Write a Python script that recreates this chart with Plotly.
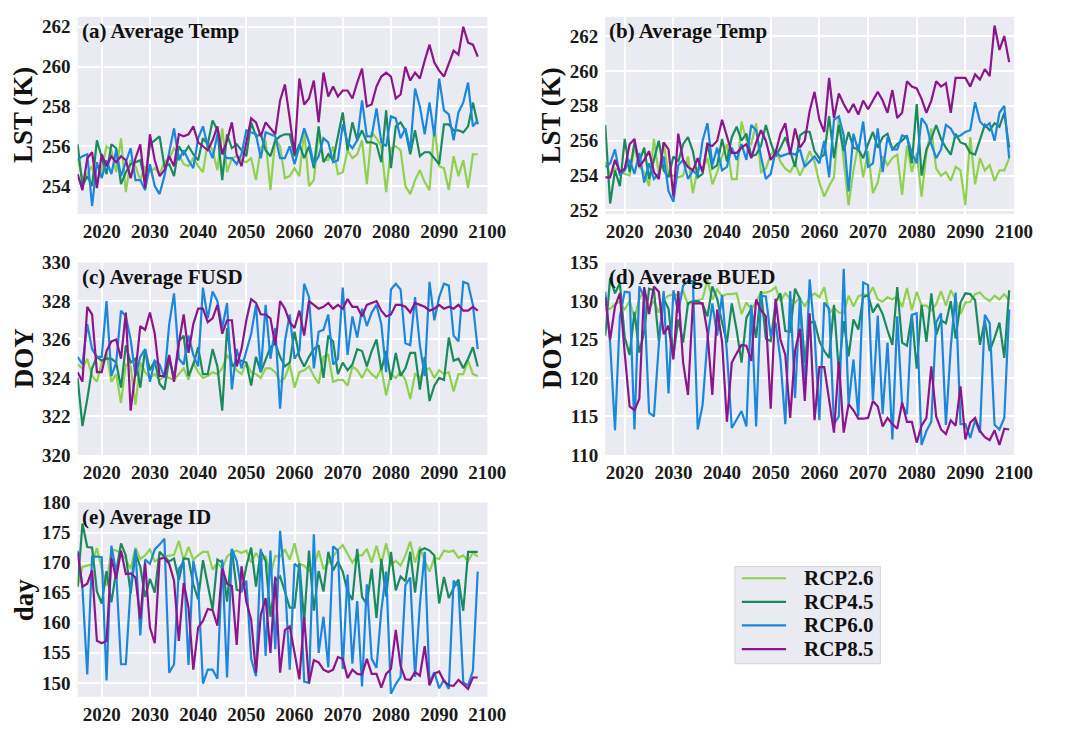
import plotly.graph_objects as go

W, H = 1091, 733
scenarios = ["RCP2.6", "RCP4.5", "RCP6.0", "RCP8.5"]
colors = ["#8fd14f", "#1a8a5c", "#1a87dd", "#8b168b"]

# ---------------- (a) Average Temp, years from 2015 ----------------
a_start = 2015
a_rcp26 = [255.4,254.4,254.6,255.0,254.3,254.8,256.0,255.8,254.7,256.4,253.7,255.3,255.0,254.3,255.0,254.7,254.9,254.6,255.2,255.4,
           255.9,255.6,255.1,255.0,255.4,255.0,254.7,256.2,255.8,254.8,256.9,254.7,255.4,255.5,255.3,255.2,255.4,254.3,255.9,256.3,
           253.8,256.4,256.0,254.4,254.5,254.9,254.5,256.8,254.0,254.3,256.6,255.3,255.3,256.0,254.6,254.7,255.8,255.4,255.6,256.3,
           254.1,256.7,256.4,256.0,253.7,255.9,256.0,255.8,254.0,253.6,254.3,254.8,254.2,253.8,257.0,255.0,254.9,253.8,255.5,254.5,
           255.3,253.9,255.6,255.6]
a_rcp45 = [256.1,254.0,254.5,254.0,256.3,255.4,254.6,256.1,255.9,254.1,254.7,255.1,255.2,255.3,254.2,256.1,256.3,256.5,255.0,255.1,
           254.5,256.0,255.6,256.0,255.6,255.3,256.4,256.1,257.3,256.8,254.3,256.6,255.9,256.1,255.8,255.5,257.2,256.5,256.6,255.8,
           255.5,256.3,256.5,256.6,256.6,255.5,256.1,255.4,256.0,254.9,257.0,255.2,255.6,255.3,256.5,257.7,255.8,257.2,256.3,256.8,
           256.2,256.2,256.1,255.2,257.8,254.9,257.0,257.2,256.8,255.6,256.8,255.5,255.7,255.7,255.4,255.1,257.1,257.1,256.8,256.8,
           256.7,257.0,258.2,257.1]
a_rcp60 = [255.3,255.5,255.6,253.0,255.2,254.4,255.3,254.6,255.8,254.5,255.2,255.9,254.3,254.3,253.8,255.1,254.0,253.6,254.5,255.8,
           256.9,255.3,255.8,255.3,254.9,256.4,257.0,256.0,255.4,256.6,255.7,255.4,255.4,255.1,255.6,256.8,256.7,256.6,255.4,256.7,
           256.6,256.5,255.4,255.4,256.0,255.1,256.0,256.9,256.2,255.1,255.5,256.4,256.2,255.2,255.3,257.1,256.2,255.9,256.3,258.3,
           256.5,256.5,257.9,256.2,256.0,257.5,257.4,256.4,256.9,255.8,258.9,258.0,256.6,258.2,256.5,259.4,257.8,257.6,256.3,257.7,
           258.2,259.2,257.0,257.3]
a_rcp85 = [254.6,253.8,255.4,255.7,253.9,255.6,255.0,255.5,255.2,255.5,255.3,254.4,255.4,256.1,253.9,256.6,255.3,254.5,254.8,255.5,
           255.0,256.6,256.5,256.6,257.0,256.2,256.0,255.8,256.3,257.0,255.6,256.3,257.2,255.6,255.0,256.3,257.4,257.2,256.5,257.2,
           256.9,256.6,258.3,259.1,257.4,255.6,259.4,258.1,258.4,259.3,257.2,259.7,258.5,259.0,258.5,258.8,258.8,258.4,259.2,259.9,
           258.0,258.1,259.0,259.5,259.7,259.5,258.4,258.6,260.0,259.3,259.7,259.4,260.3,261.1,260.2,259.8,259.5,260.1,260.8,260.6,
           262.0,261.2,261.1,260.5]

# ---------------- (b) Average Temp, years from 2016 ----------------
b_start = 2016
b_rcp26 = [254.8,254.0,254.4,254.3,254.1,254.0,255.6,254.5,254.2,253.4,256.1,254.1,255.9,254.0,254.0,253.9,254.0,255.1,253.0,254.4,
           254.4,255.0,253.5,254.2,255.1,255.8,253.8,253.8,257.1,256.0,255.8,257.0,254.2,254.4,255.2,255.5,254.8,254.4,254.2,254.7,
           254.0,254.6,255.4,254.8,253.6,252.8,253.4,253.9,257.4,254.8,252.3,254.3,255.8,253.9,255.4,253.0,253.6,255.1,254.6,255.0,
           255.2,252.9,255.7,254.2,255.3,252.8,255.3,256.7,254.4,254.0,254.2,253.7,254.5,254.3,252.3,256.2,253.5,255.0,254.3,254.6,
           253.7,254.3,254.3,255.0]
b_rcp45 = [256.9,252.4,254.3,253.4,256.1,254.2,255.9,254.8,255.6,253.8,254.9,256.0,254.3,253.9,255.1,254.8,255.8,256.2,255.4,253.9,
           254.1,255.9,254.4,254.6,256.1,254.8,256.2,256.8,256.0,256.4,255.1,255.2,255.7,256.9,255.9,255.1,255.6,256.2,255.4,254.5,
           256.3,256.5,256.5,255.4,255.0,255.2,257.4,255.0,256.9,255.4,256.5,255.6,255.5,255.0,255.8,256.5,255.6,256.2,256.4,255.5,
           255.8,256.0,256.3,254.7,258.1,254.0,255.5,256.1,256.9,256.1,255.6,255.2,256.4,255.9,255.8,255.3,255.2,256.0,256.9,256.6,
           257.0,256.8,257.6,255.6]
b_rcp60 = [254.5,254.7,255.5,254.0,254.3,254.9,254.1,255.3,253.6,254.7,253.8,254.1,255.1,253.1,252.5,254.6,254.9,253.8,254.3,254.0,
           256.0,257.0,254.6,255.6,254.3,254.5,255.6,254.9,255.8,254.9,256.9,256.6,255.1,253.8,254.1,255.4,255.1,255.2,255.3,255.2,
           255.5,254.5,254.8,255.1,254.7,256.0,253.9,257.2,257.4,256.3,253.1,256.4,255.4,257.1,254.5,254.7,256.7,254.2,256.2,255.5,
           255.5,256.3,256.2,255.3,254.7,257.3,256.9,255.8,255.0,255.5,256.9,256.7,256.2,256.3,256.5,256.6,258.2,257.1,256.8,257.0,
           256.0,257.6,258.0,255.0]
b_rcp85 = [253.9,253.9,254.9,254.2,254.4,255.8,256.1,254.5,254.9,255.4,254.2,253.8,255.9,255.5,252.8,256.4,254.9,254.5,254.3,255.0,
           254.2,255.8,255.7,256.0,257.2,256.2,255.3,255.3,255.6,255.8,255.0,255.9,256.6,256.0,254.9,255.3,256.4,257.0,255.2,256.7,
           255.6,256.0,257.7,258.8,257.2,256.5,259.6,257.3,258.7,258.1,257.6,258.1,257.5,258.3,257.8,258.3,258.8,258.3,257.6,258.9,
           257.3,257.6,259.4,259.1,259.0,258.4,257.6,258.3,259.4,259.1,259.3,257.6,259.6,259.6,259.6,259.1,259.8,259.5,260.1,259.7,
           262.6,261.2,262.0,260.5]

# ---------------- (c) Average FUSD, years from 2015 ----------------
c_start = 2015
c_rcp26 = [324.7,324.5,325.0,324.1,323.8,324.8,325.3,323.8,324.2,322.7,324.7,324.6,322.6,324.8,324.3,324.0,324.2,323.9,324.1,324.0,
           323.9,324.2,324.5,323.9,324.8,324.3,324.0,324.1,324.3,324.2,324.5,325.2,324.8,324.4,324.2,324.8,324.3,324.2,324.0,324.5,
           324.5,324.3,323.8,324.0,324.7,323.5,324.3,324.4,324.6,324.1,323.7,325.1,325.2,323.8,323.9,323.9,323.6,324.6,324.4,324.0,
           324.5,324.2,324.0,324.5,323.1,324.2,324.0,324.3,323.9,322.9,324.2,324.0,324.4,324.5,324.0,324.4,324.2,324.3,323.3,324.2,
           324.2,324.9,324.2,324.1]
c_rcp45 = [324.0,321.5,322.9,324.5,325.1,324.9,325.0,325.0,324.8,323.5,325.7,324.8,325.0,323.5,325.5,324.4,324.9,323.7,323.4,325.0,
           324.0,325.9,326.2,324.1,324.7,325.6,324.2,324.2,325.5,324.6,322.3,326.6,324.6,324.8,324.9,324.8,323.6,325.1,324.3,325.0,
           325.6,325.8,325.1,324.6,324.8,326.4,325.1,324.6,325.1,325.5,325.7,324.0,326.2,325.9,324.2,324.8,324.4,324.7,325.5,325.4,
           324.6,325.4,326.0,324.4,325.4,323.9,325.3,324.1,324.5,325.3,325.3,323.4,325.1,322.8,323.6,324.0,323.9,326.1,324.9,325.0,
           324.5,325.0,325.6,324.6]
c_rcp60 = [325.1,324.7,326.8,325.5,325.1,325.1,328.0,324.1,324.8,327.5,327.2,326.0,324.1,325.1,325.5,323.8,324.9,324.7,324.0,326.8,
           328.4,325.0,324.7,326.2,325.2,324.6,328.7,327.1,328.5,328.0,326.6,327.9,323.4,325.5,324.5,325.4,326.3,327.8,324.3,327.8,
           325.0,326.6,322.4,325.9,327.3,325.0,325.4,328.9,328.2,324.5,326.4,326.5,327.3,324.7,325.0,328.7,325.2,327.2,326.1,327.6,
           326.7,327.4,327.8,326.8,324.3,328.6,328.9,328.6,325.8,325.7,328.2,325.7,324.1,329.0,327.0,328.2,328.9,328.8,326.2,325.9,
           329.0,328.9,327.8,325.5]
c_rcp85 = [324.3,323.8,327.7,327.3,324.3,324.3,325.4,325.9,326.0,325.0,327.4,322.3,324.3,326.7,326.5,327.4,326.3,324.1,324.1,325.2,
           323.8,325.8,327.3,325.3,326.8,327.6,327.6,326.9,327.1,327.8,326.3,327.0,327.0,324.6,325.5,327.0,328.1,327.9,327.3,327.3,
           327.1,325.7,328.0,327.6,326.9,326.6,327.5,326.2,328.0,327.8,327.6,327.7,327.9,327.6,327.8,327.6,328.1,327.7,327.7,327.2,
           327.8,327.9,328.0,327.5,327.2,327.3,327.8,327.8,327.7,327.4,327.9,327.8,327.7,327.5,327.6,327.8,327.6,327.7,327.6,327.8,
           327.5,327.5,327.7,327.5]

# ---------------- (d) Average BUED, years from 2016 ----------------
d_start = 2016
d_rcp26 = [128.9,129.0,129.6,129.9,128.9,130.0,127.8,130.3,131.3,129.1,130.0,128.5,130.2,130.7,130.9,130.7,131.3,129.5,130.0,130.1,
           130.3,132.7,130.2,131.5,130.6,130.9,130.9,131.0,128.3,129.8,128.9,129.9,131.1,131.1,131.3,131.8,130.0,131.0,130.3,129.8,
           130.4,129.3,130.5,131.0,130.5,131.8,128.4,129.1,128.5,128.4,130.7,129.3,130.6,130.9,130.6,131.8,130.2,129.9,130.5,130.2,
           130.6,129.2,131.7,128.8,131.2,129.4,129.4,128.8,129.6,131.3,129.4,131.4,130.2,128.3,129.8,129.9,130.9,131.1,130.4,130.0,
           130.7,130.2,130.9,130.1]
d_rcp45 = [125.5,133.0,131.0,132.3,125.3,123.0,128.6,123.3,126.0,131.6,131.4,124.8,130.3,129.0,122.9,127.6,124.6,129.7,130.0,130.0,
           129.6,128.0,131.9,130.3,127.2,124.6,129.7,126.2,122.0,127.8,129.0,125.2,131.3,125.1,124.8,129.8,131.0,126.1,126.0,131.6,
           130.3,122.0,127.2,127.3,124.8,123.5,122.6,129.5,120.8,127.4,122.8,127.6,126.3,130.5,130.8,128.5,129.6,128.3,126.2,124.3,
           131.8,124.6,124.2,128.2,121.2,129.5,124.7,131.0,125.6,127.5,127.1,130.0,125.1,129.8,131.0,130.9,130.1,124.3,127.5,123.5,
           125.2,127.2,122.6,131.4]
d_rcp60 = [131.2,124.5,113.2,128.0,131.2,131.1,113.3,131.9,130.5,115.5,115.0,124.3,131.3,118.0,131.4,128.5,132.0,132.6,132.6,113.3,
           116.5,125.0,129.7,125.5,130.8,123.3,113.5,114.6,115.7,113.7,129.5,113.7,130.7,130.6,125.4,127.2,122.4,114.0,131.3,117.4,
           130.4,118.5,132.8,125.9,114.5,129.8,129.0,114.0,115.0,134.2,116.5,122.4,115.0,132.4,132.1,117.1,128.1,115.3,124.6,112.0,
           128.0,116.5,115.3,128.2,128.4,111.3,113.1,114.3,127.2,128.4,113.9,124.0,131.1,114.0,114.0,112.2,114.5,112.9,128.2,127.1,
           113.9,113.3,114.8,128.9]
d_rcp85 = [130.5,125.0,129.3,131.0,123.2,116.3,115.8,117.3,131.8,128.3,131.9,131.2,125.7,126.8,122.4,131.3,122.0,117.8,129.7,129.7,
           129.7,125.9,117.8,128.9,124.7,114.3,122.0,123.2,124.3,124.2,122.2,130.2,128.8,128.0,116.0,130.3,125.0,123.0,114.8,123.5,
           126.4,117.0,128.4,114.5,121.4,121.4,117.0,112.9,122.1,112.9,116.6,115.8,114.7,114.7,114.8,117.0,116.3,113.7,114.8,114.0,
           113.4,116.8,114.3,114.3,111.6,113.8,114.8,121.5,115.0,113.3,112.7,114.5,113.8,118.9,112.0,114.2,114.8,113.1,112.3,111.9,
           113.2,111.3,113.4,113.3]

# ---------------- (e) Average ID, years from 2015 ----------------
e_start = 2015
e_rcp26 = [166.0,169.3,169.5,169.7,172.4,169.0,166.2,172.2,172.0,171.6,170.6,169.0,172.5,170.6,171.2,172.2,170.2,170.7,171.0,171.1,
           171.3,173.6,170.4,172.6,170.5,171.2,171.8,171.8,168.8,170.0,169.0,171.0,171.7,172.0,171.6,172.0,170.0,171.6,170.3,171.1,
           167.8,171.1,171.0,172.2,170.5,173.2,169.8,169.5,168.6,169.3,172.0,168.9,170.0,171.0,172.1,172.9,171.5,170.0,171.2,171.2,
           172.3,170.0,172.8,169.8,173.2,169.6,170.3,169.5,171.2,173.5,170.0,172.6,170.3,168.5,170.8,170.6,172.0,171.8,172.0,170.8,
           171.2,170.2,171.7,171.0]
e_rcp45 = [166.0,176.5,172.6,172.5,165.2,163.2,168.6,163.4,168.5,173.2,171.2,164.9,171.6,169.3,164.3,167.3,165.0,171.8,171.0,170.2,
           170.7,167.1,170.7,170.6,166.4,163.9,170.4,166.6,162.2,170.5,170.0,163.5,172.2,165.5,165.2,169.4,172.5,166.0,172.0,170.3,
           161.0,167.0,167.7,165.2,162.5,162.5,169.9,160.3,172.0,162.0,168.6,165.2,171.8,168.7,170.2,168.5,165.2,163.8,172.3,164.3,
           163.1,169.0,160.8,170.6,164.4,171.8,165.4,167.7,166.9,171.8,165.0,172.0,172.4,172.0,171.2,163.2,167.6,164.1,165.8,167.2,
           162.0,171.8,171.8,171.8]
e_rcp60 = [172.0,165.8,151.4,171.0,171.0,170.9,150.4,172.8,168.4,153.1,153.1,166.0,172.2,157.9,170.5,169.8,172.2,173.0,174.0,151.7,
           153.1,169.0,170.1,153.0,170.3,166.2,149.9,152.2,152.2,150.7,170.5,150.9,172.3,170.3,165.2,167.0,154.0,151.1,172.3,154.5,
           172.0,155.6,175.3,167.0,152.2,169.8,169.2,150.2,150.0,174.7,155.0,161.0,152.6,172.7,172.0,152.3,168.0,153.2,163.6,149.4,
           166.4,154.0,152.5,162.0,168.5,148.2,149.8,151.0,166.3,167.5,151.0,163.0,171.8,150.0,151.8,149.1,150.5,149.0,167.0,166.0,
           150.1,149.6,152.0,168.5]
e_rcp85 = [171.7,166.0,166.5,168.7,157.0,156.6,157.0,170.8,167.3,172.0,168.1,168.2,167.5,160.6,170.0,159.2,156.6,170.6,170.8,169.8,
           167.0,157.0,166.6,162.5,152.2,159.2,160.3,162.3,162.1,159.5,169.0,166.5,166.1,156.3,169.4,163.5,160.5,151.7,161.3,164.1,
           155.0,167.7,151.7,158.8,159.4,155.2,150.6,161.0,150.0,153.8,153.4,152.2,151.8,152.2,154.3,154.0,150.8,152.2,151.5,151.4,
           154.0,151.5,151.5,149.2,151.5,152.3,158.8,152.8,150.6,150.5,151.8,151.2,156.1,149.6,151.5,151.9,150.3,149.6,149.5,150.5,
           149.8,149.0,150.9,150.9]

x_ticks = [2020, 2030, 2040, 2050, 2060, 2070, 2080, 2090, 2100]
a_yticks = [254, 256, 258, 260, 262]
b_yticks = [252, 254, 256, 258, 260, 262]
c_yticks = [320, 322, 324, 326, 328, 330]
d_yticks = [110, 115, 120, 125, 130, 135]
e_yticks = [150, 155, 160, 165, 170, 175, 180]

panels = [
    dict(title="(a) Average Temp", ylab="LST (K)", start=a_start, series=[a_rcp26, a_rcp45, a_rcp60, a_rcp85],
         yticks=a_yticks, xr=[2015, 2100], yr=[252.6, 262.5], px=(79, 496), py=(7, 210)),
    dict(title="(b) Average Temp", ylab="LST (K)", start=b_start, series=[b_rcp26, b_rcp45, b_rcp60, b_rcp85],
         yticks=b_yticks, xr=[2016, 2100], yr=[251.8, 263.1], px=(616, 1032), py=(7, 210)),
    dict(title="(c) Average FUSD", ylab="DOY", start=c_start, series=[c_rcp26, c_rcp45, c_rcp60, c_rcp85],
         yticks=c_yticks, xr=[2015, 2100], yr=[320, 330], px=(79, 496), py=(260, 458)),
    dict(title="(d) Average BUED", ylab="DOY", start=d_start, series=[d_rcp26, d_rcp45, d_rcp60, d_rcp85],
         yticks=d_yticks, xr=[2016, 2100], yr=[110, 135], px=(616, 1032), py=(260, 458)),
    dict(title="(e) Average ID", ylab="day", start=e_start, series=[e_rcp26, e_rcp45, e_rcp60, e_rcp85],
         yticks=e_yticks, xr=[2015, 2100], yr=[147.7, 180], px=(79, 496), py=(507, 707)),
]

FONT = "Liberation Serif"
fig = go.Figure()
annotations = []
shapes = []
for i, p in enumerate(panels):
    k = "" if i == 0 else str(i + 1)
    xa, ya = "x" + k, "y" + k
    for j, (name, col, vals) in enumerate(zip(scenarios, colors, p["series"])):
        years = [p["start"] + t for t in range(len(vals))]
        fig.add_trace(go.Scatter(x=years, y=vals, mode="lines", name=name,
                                 line=dict(color=col, width=2.2),
                                 xaxis=xa, yaxis=ya, showlegend=False))
    x0, x1 = p["px"][0] / W, p["px"][1] / W
    y0, y1 = 1 - p["py"][1] / H, 1 - p["py"][0] / H
    axis_common = dict(showgrid=True, gridcolor="white", gridwidth=1.5, zeroline=False,
                       showline=False, ticks="",
                       tickfont=dict(family=FONT, size=19, color="#1a1a1a"))
    fig.update_layout(**{
        "xaxis" + k: dict(domain=[x0, x1], range=p["xr"], tickvals=x_ticks,
                          ticktext=["<b>%d</b>" % v for v in x_ticks], anchor=ya,
                          ticklabelstandoff=4, **axis_common),
        "yaxis" + k: dict(domain=[y0, y1], range=p["yr"], tickvals=p["yticks"],
                          ticktext=["<b>%d</b>" % v for v in p["yticks"]], anchor=xa,
                          ticklabelstandoff=6, **axis_common),
    })
    annotations.append(dict(text="<b>" + p["title"] + "</b>", xref="paper", yref="paper",
                            x=(p["px"][0] + 2) / W, y=1 - (p["py"][0] + 15) / H,
                            xanchor="left", yanchor="middle", showarrow=False,
                            font=dict(family=FONT, size=21, color="#111111")))
    annotations.append(dict(text="<b>" + p["ylab"] + "</b>", xref="paper", yref="paper",
                            x=(p["px"][0] - 55) / W, y=1 - ((p["py"][0] + p["py"][1]) / 2) / H,
                            xanchor="center", yanchor="middle", textangle=-90, showarrow=False,
                            font=dict(family=FONT, size=27, color="#111111")))

# legend drawn as a boxed key in the lower-right empty cell
LX0, LY0, LX1, LY1 = 748, 573, 896, 673
shapes.append(dict(type="rect", xref="paper", yref="paper",
                   x0=LX0 / W, x1=LX1 / W, y0=1 - LY1 / H, y1=1 - LY0 / H,
                   fillcolor="#eaeaf2", line=dict(color="#d2d2da", width=1), layer="below"))
for j, (name, col) in enumerate(zip(scenarios, colors)):
    yy = 1 - (585 + 24.3 * j) / H
    shapes.append(dict(type="line", xref="paper", yref="paper",
                       x0=755 / W, x1=800 / W, y0=yy, y1=yy, line=dict(color=col, width=2.2)))
    annotations.append(dict(text="<b>" + name + "</b>", xref="paper", yref="paper",
                            x=816 / W, y=yy, xanchor="left", yanchor="middle", showarrow=False,
                            font=dict(family=FONT, size=21, color="#111111")))

fig.update_layout(
    width=W, height=H, margin=dict(l=0, r=0, t=0, b=0),
    paper_bgcolor="white", plot_bgcolor="#eaeaf2",
    annotations=annotations, shapes=shapes, showlegend=False,
    font=dict(family=FONT),
)
fig.write_html("out.html")
